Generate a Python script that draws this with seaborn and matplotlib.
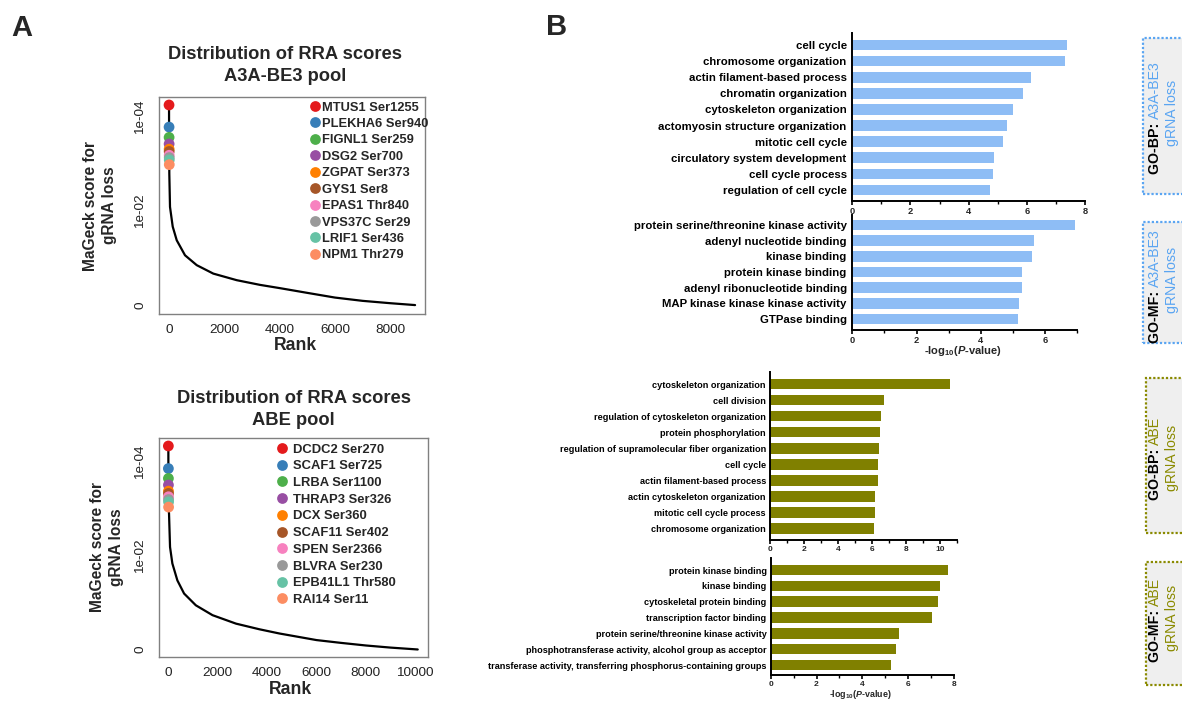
import matplotlib
matplotlib.use("Agg")
import matplotlib.pyplot as plt
import seaborn as sns
from matplotlib.patches import Rectangle

# ---------------- data: panel A ----------------
top_rank = [1, 2, 3, 4, 5, 6, 7, 8, 9, 10]
point_colors = ["#e41a1c", "#377eb8", "#4daf4a", "#984ea3", "#ff7f00",
                "#a65628", "#f781bf", "#999999", "#66c2a5", "#fc8d62"]

a3a_labels = ["MTUS1 Ser1255", "PLEKHA6 Ser940", "FIGNL1 Ser259", "DSG2 Ser700",
              "ZGPAT Ser373", "GYS1 Ser8", "EPAS1 Thr840", "VPS37C Ser29",
              "LRIF1 Ser436", "NPM1 Thr279"]
a3a_top_score = [4.26, 3.79, 3.57, 3.43, 3.32, 3.27, 3.19, 3.14, 3.09, 2.99]
a3a_curve_rank = [11, 36, 134, 279, 579, 1002, 1602, 2449, 3291, 4015, 5000, 6000, 7000, 8000, 8900]
a3a_curve_score = [2.80, 2.09, 1.67, 1.38, 1.06, 0.85, 0.67, 0.53, 0.43, 0.36, 0.26, 0.16, 0.09, 0.04, 0.0]

abe_labels = ["DCDC2 Ser270", "SCAF1 Ser725", "LRBA Ser1100", "THRAP3 Ser326",
              "DCX Ser360", "SCAF11 Ser402", "SPEN Ser2366", "BLVRA Ser230",
              "EPB41L1 Thr580", "RAI14 Ser11"]
abe_top_score = [4.33, 3.85, 3.64, 3.50, 3.37, 3.32, 3.25, 3.19, 3.14, 3.03]
abe_curve_rank = [28, 69, 163, 366, 638, 1114, 1789, 2740, 3687, 4500, 6000, 7000, 8000, 9000, 10100]
abe_curve_score = [2.89, 2.18, 1.83, 1.47, 1.19, 0.94, 0.73, 0.55, 0.43, 0.34, 0.20, 0.14, 0.085, 0.04, 0.0]

score_ticks = [0, 1, 2, 3, 4]
score_ticklabels = ["0", "", "1e-02", "", "1e-04"]

# ---------------- data: panel B ----------------
bp_a3a_terms = ["cell cycle", "chromosome organization", "actin filament-based process",
                "chromatin organization", "cytoskeleton organization",
                "actomyosin structure organization", "mitotic cell cycle",
                "circulatory system development", "cell cycle process",
                "regulation of cell cycle"]
bp_a3a_vals = [7.37, 7.32, 6.14, 5.88, 5.54, 5.32, 5.17, 4.87, 4.85, 4.72]

mf_a3a_terms = ["protein serine/threonine kinase activity", "adenyl nucleotide binding",
                "kinase binding", "protein kinase binding", "adenyl ribonucleotide binding",
                "MAP kinase kinase kinase activity", "GTPase binding"]
mf_a3a_vals = [6.93, 5.64, 5.60, 5.29, 5.28, 5.20, 5.14]

bp_abe_terms = ["cytoskeleton organization", "cell division",
                "regulation of cytoskeleton organization", "protein phosphorylation",
                "regulation of supramolecular fiber organization", "cell cycle",
                "actin filament-based process", "actin cytoskeleton organization",
                "mitotic cell cycle process", "chromosome organization"]
bp_abe_vals = [10.59, 6.72, 6.53, 6.45, 6.41, 6.37, 6.36, 6.18, 6.14, 6.08]

mf_abe_terms = ["protein kinase binding", "kinase binding", "cytoskeletal protein binding",
                "transcription factor binding", "protein serine/threonine kinase activity",
                "phosphotransferase activity, alcohol group as acceptor",
                "transferase activity, transferring phosphorus-containing groups"]
mf_abe_vals = [7.74, 7.41, 7.30, 7.03, 5.58, 5.49, 5.24]

BLUE_BAR = "#8ebdf5"
BLUE_TXT = "#5aa5f2"
OLIVE_BAR = "#808000"
OLIVE_TXT = "#8a8a00"

# ---------------- style ----------------
sns.set_theme(style="white")
plt.rcParams["font.family"] = ["Liberation Sans", "DejaVu Sans"]
plt.rcParams["mathtext.fontset"] = "custom"
plt.rcParams["mathtext.rm"] = "Liberation Sans:bold"
plt.rcParams["mathtext.it"] = "Liberation Sans:italic:bold"
plt.rcParams["mathtext.bf"] = "Liberation Sans:bold"

W, H = 1182, 702
fig = plt.figure(figsize=(W / 100, H / 100), dpi=100)
fig.patch.set_facecolor("white")


def rect(l, t, r, b):
    return [l / W, 1 - b / H, (r - l) / W, (b - t) / H]


def panel_a(box, labels, top_score, curve_rank, curve_score, xlim, ylim, xticks,
            title, title_xy, ylabel_x, rank_xy, leg_xy, leg_fs, leg_pad, leg_space):
    l, t, r, b = box
    ax = fig.add_axes(rect(l, t, r, b))
    ranks = top_rank + curve_rank
    scores = top_score + curve_score
    sns.lineplot(x=ranks, y=scores, color="black", lw=1.6, ax=ax,
                 estimator=None, sort=False, zorder=2)
    sns.scatterplot(x=top_rank, y=top_score, hue=labels, hue_order=labels,
                    palette=point_colors, s=60, linewidth=0, ax=ax, zorder=3)
    ax.set_xlim(*xlim)
    ax.set_ylim(*ylim)
    ax.set_xticks(xticks)
    ax.set_yticks(score_ticks)
    ax.set_yticklabels(score_ticklabels, rotation=90, va="center")
    ax.tick_params(axis="both", length=5, width=1, color="#808080",
                   labelsize=9.7, labelcolor="#222222")
    ax.tick_params(axis="y", pad=4)
    ax.tick_params(axis="x", pad=2)
    for s in ax.spines.values():
        s.set_visible(True)
        s.set_color("#808080")
        s.set_linewidth(1)
    ax.set_title(title, fontsize=13.2, fontweight="bold", va="center", pad=0,
                 x=(title_xy[0] - l) / (r - l), y=(b - title_xy[1]) / (b - t),
                 linespacing=1.35)
    ax.set_ylabel("MaGeck score for\ngRNA loss", fontsize=11.2, fontweight="bold",
                  va="center", linespacing=1.35)
    ax.yaxis.set_label_coords((ylabel_x - l) / (r - l), 0.5)
    ax.set_xlabel("Rank", fontsize=12.7, fontweight="bold", va="center")
    ax.xaxis.set_label_coords((rank_xy[0] - l) / (r - l), (b - rank_xy[1]) / (b - t))
    h, lab = ax.get_legend_handles_labels()
    ax.legend(h, lab, loc="upper left", bbox_to_anchor=(leg_xy[0] / W, 1 - leg_xy[1] / H),
              bbox_transform=fig.transFigure, frameon=False, borderpad=0,
              borderaxespad=0, handlelength=0.7, handletextpad=leg_pad,
              labelspacing=leg_space, prop={"weight": "bold", "size": leg_fs})
    return ax


panel_a((159, 97, 425, 314), a3a_labels, a3a_top_score, a3a_curve_rank, a3a_curve_score,
        (-362, 9259), (-0.19, 4.43), [0, 2000, 4000, 6000, 8000],
        "Distribution of RRA scores\nA3A-BE3 pool", (285, 65.5), 100, (295, 345),
        (310.5, 101.5), 9.3, 0.18, 0.34)

panel_a((159, 438, 428, 657), abe_labels, abe_top_score, abe_curve_rank, abe_curve_score,
        (-378, 10516), (-0.16, 4.50), [0, 2000, 4000, 6000, 8000, 10000],
        "Distribution of RRA scores\nABE pool", (293.7, 409.5), 106.7, (290.5, 690),
        (277, 443.5), 9.4, 0.5, 0.35)


def panel_b(box, terms, vals, color, xlim, xmajor, xminor, ylim, label_fs, tick_fs,
            bar_w, label_pad, xlabel=None, xlabel_xy=None, xlabel_fs=8):
    l, t, r, b = box
    ax = fig.add_axes(rect(l, t, r, b))
    sns.barplot(x=vals, y=terms, order=terms, color=color, saturation=1,
                width=bar_w, orient="h", ax=ax, linewidth=0)
    ax.set_xlim(*xlim)
    ax.set_ylim(*ylim)
    ax.set_xticks(xmajor)
    ax.set_xticks(xminor, minor=True)
    sns.despine(ax=ax)
    for s in ("left", "bottom"):
        ax.spines[s].set_color("black")
        ax.spines[s].set_linewidth(1.4)
    ax.tick_params(axis="y", length=0, pad=label_pad, labelsize=label_fs,
                   labelcolor="black")
    ax.tick_params(axis="x", which="major", length=3, width=1.2, pad=1.2,
                   labelsize=tick_fs, bottom=True, color="black")
    ax.tick_params(axis="x", which="minor", length=2, width=1.0, bottom=True,
                   color="black")
    for tl in ax.get_yticklabels() + ax.get_xticklabels():
        tl.set_fontweight("bold")
    ax.set_ylabel("")
    if xlabel:
        ax.set_xlabel(xlabel, fontsize=xlabel_fs, fontweight="bold", va="center")
        ax.xaxis.set_label_coords((xlabel_xy[0] - l) / (r - l), (b - xlabel_xy[1]) / (b - t))
    else:
        ax.set_xlabel("")
    return ax


XLAB = r"-log$_{\mathrm{10}}$($\mathit{P}$-value)"

panel_b((852.3, 32.7, 1085, 201), bp_a3a_terms, bp_a3a_vals, BLUE_BAR, (0, 8),
        [0, 2, 4, 6, 8], [1, 3, 5, 7], (9.68, -0.76), 8.2, 6.7, 0.66, 4)
panel_b((852.3, 215, 1077.3, 330), mf_a3a_terms, mf_a3a_vals, BLUE_BAR, (0, 7),
        [0, 2, 4, 6], [1, 3, 5, 7], (6.70, -0.64), 8.2, 6.7, 0.68, 4,
        XLAB, (963.3, 351.5), 8)
panel_b((770, 371.7, 957.3, 540), bp_abe_terms, bp_abe_vals, OLIVE_BAR, (0, 11),
        [0, 2, 4, 6, 8, 10], [1, 3, 5, 7, 9, 11], (9.73, -0.77), 6.6, 6.0, 0.67, 3)
panel_b((770.7, 558.3, 954, 675), mf_abe_terms, mf_abe_vals, OLIVE_BAR, (0, 8),
        [0, 2, 4, 6, 8], [1, 3, 5, 7], (6.63, -0.74), 6.6, 6.0, 0.67, 3,
        XLAB, (860, 694.5), 6.4)

# ---------------- side boxes ----------------
side_boxes = [
    # (left, top, bottom, prefix, tag, color, line1 center, line2 center)
    (1142.5, 37.5, 194, "GO-BP: ", "A3A-BE3", BLUE_TXT, 118, 113.3),
    (1142.5, 221.7, 342.7, "GO-MF: ", "A3A-BE3", BLUE_TXT, 286.5, 280),
    (1145.5, 378.3, 533.3, "GO-BP: ", "ABE", OLIVE_TXT, 458.3, 458),
    (1146, 561.7, 685, "GO-MF: ", "ABE", OLIVE_TXT, 620, 618),
]
renderer = fig.canvas.get_renderer()
for (bl, bt, bb, prefix, tag, col, c1, c2) in side_boxes:
    fig.add_artist(Rectangle((bl / W, 1 - bb / H), (W + 20 - bl) / W, (bb - bt) / H,
                             transform=fig.transFigure, facecolor="#efefef",
                             edgecolor=col, linestyle=(0, (1, 0.9)), linewidth=1.6,
                             zorder=0))
    x1 = 1155 / W
    p1 = fig.text(x1, 0.5, prefix, rotation=90, rotation_mode="anchor", ha="right",
                  va="center", fontsize=10.2, fontweight="bold", color="black")
    p2 = fig.text(x1, 0.5, tag, rotation=90, rotation_mode="anchor", ha="left",
                  va="center", fontsize=10.2, color=col)
    L1 = p1.get_window_extent(renderer).height
    L2 = p2.get_window_extent(renderer).height
    split_px = c1 + (L2 - L1) / 2.0  # image coords (y down)
    p1.set_y(1 - split_px / H)
    p2.set_y(1 - split_px / H)
    fig.text(1171.7 / W, 1 - c2 / H, "gRNA loss", rotation=90, ha="center",
             va="center", fontsize=10.2, color=col)

# ---------------- panel letters ----------------
fig.text(22 / W, 1 - 28 / H, "A", fontsize=21, fontweight="bold", ha="center", va="center")
fig.text(557 / W, 1 - 27 / H, "B", fontsize=21, fontweight="bold", ha="center", va="center")

fig.savefig("out.png", dpi=100, facecolor="white")
